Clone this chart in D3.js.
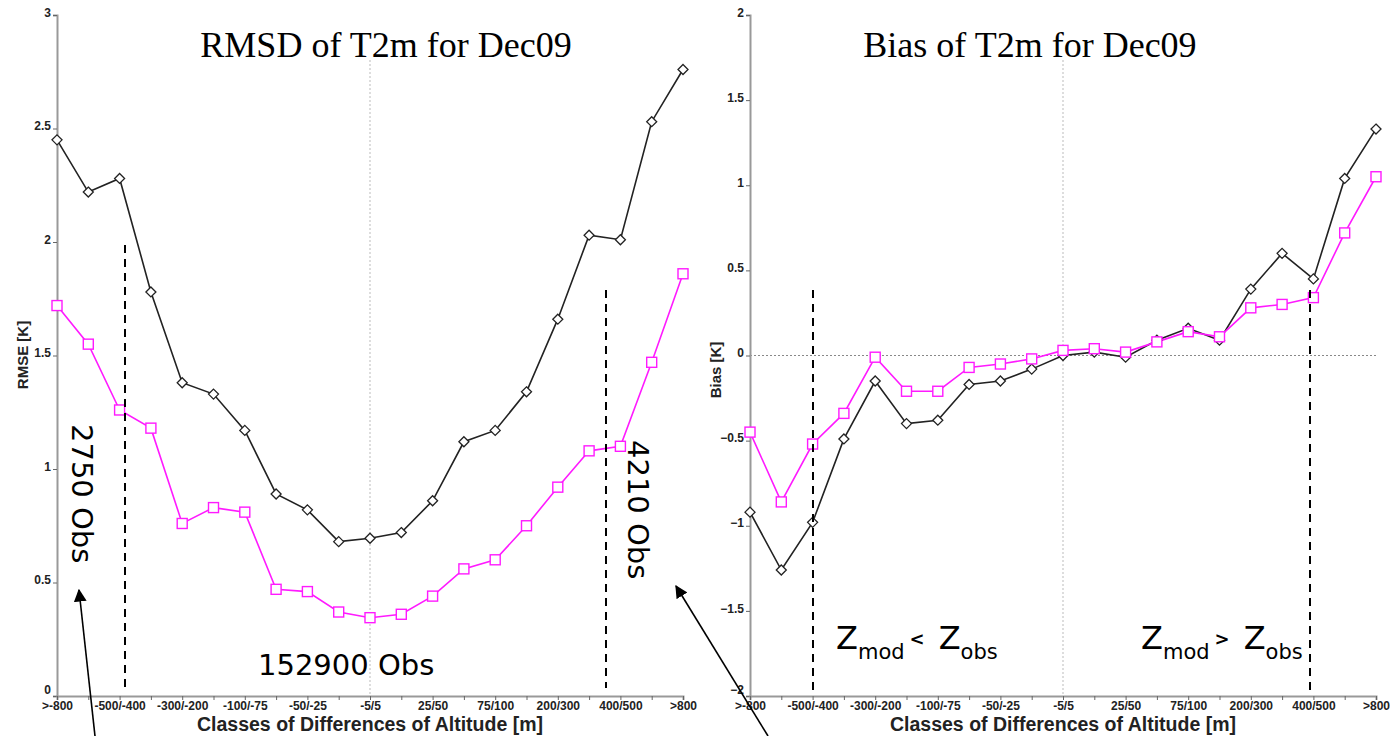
<!DOCTYPE html>
<html>
<head>
<meta charset="utf-8">
<script src="https://cdn.jsdelivr.net/npm/d3@7"></script>
<style>
  body { margin: 0; background: #fff; }
  svg { display: block; }
</style>
</head>
<body>
<svg id="area" width="1390" height="736"></svg>
<script>
// class labels, shown on every second tick
const classLabels = ['>-800', '-500/-400', '-300/-200', '-100/-75', '-50/-25', '-5/5',
  '25/50', '75/100', '200/300', '400/500', '>800'];

// RMSD, 21 classes
const rmsdBlack = [2.45, 2.22, 2.28, 1.78, 1.38, 1.33, 1.17, 0.89, 0.82, 0.68, 0.695,
  0.72, 0.86, 1.12, 1.17, 1.34, 1.66, 2.03, 2.01, 2.53, 2.76];
const rmsdMagenta = [1.72, 1.55, 1.26, 1.18, 0.76, 0.83, 0.81, 0.47, 0.46, 0.37, 0.345,
  0.36, 0.44, 0.56, 0.60, 0.75, 0.92, 1.08, 1.10, 1.47, 1.86];

// Bias, 21 classes
const biasBlack = [-0.92, -1.26, -0.98, -0.49, -0.15, -0.40, -0.38, -0.17, -0.15, -0.08, 0.00,
  0.02, -0.01, 0.09, 0.16, 0.09, 0.39, 0.60, 0.45, 1.04, 1.33];
const biasMagenta = [-0.45, -0.86, -0.52, -0.34, -0.01, -0.21, -0.21, -0.07, -0.05, -0.02, 0.03,
  0.04, 0.02, 0.08, 0.14, 0.11, 0.28, 0.30, 0.34, 0.72, 1.05];

const svg = d3.select('#area');
const sans = '"Liberation Sans", Arial, sans-serif';

function drawPanel(opt) {
  const x = d3.scaleLinear([0, 20], [opt.left, opt.left + 626]);
  const y = d3.scaleLinear(opt.domain, [696, 15]);
  const g = svg.append('g');

  // center dotted line
  g.append('line')
    .attr('x1', x(10)).attr('x2', x(10))
    .attr('y1', 60).attr('y2', y(opt.domain[0]))
    .attr('stroke', '#bbb').attr('stroke-dasharray', '2,2');

  if (opt.zeroLine) {
    g.append('line')
      .attr('x1', x(0)).attr('x2', x(20))
      .attr('y1', y(0)).attr('y2', y(0))
      .attr('stroke', '#888').attr('stroke-dasharray', '2,2');
  }

  // axes
  const yAxis = g.append('g')
    .attr('transform', `translate(${x(0)},0)`)
    .call(d3.axisLeft(y).tickValues(opt.ticks).tickSize(4).tickPadding(2)
      .tickFormat(d3.format('')));
  const xAxis = g.append('g')
    .attr('transform', `translate(0,${y(opt.domain[0])})`)
    .call(d3.axisBottom(x).tickValues(d3.range(21)).tickSize(4).tickPadding(1)
      .tickFormat((d) => (d % 2 === 0 ? classLabels[d / 2] : '')));
  [yAxis, xAxis].forEach((a) => {
    a.attr('font-size', 12).attr('font-family', sans).attr('font-weight', 'bold');
    a.select('.domain').attr('stroke', '#999').attr('stroke-width', 2);
    a.selectAll('.tick line').attr('stroke', '#666');
    a.selectAll('text').attr('fill', '#222');
  });
  yAxis.selectAll('text').attr('dy', (d) => (d === opt.domain[0] ? '-0.25em' : '0.1em'));
  xAxis.selectAll('text').attr('dy', '0.75em');

  g.append('text')
    .attr('x', x(10)).attr('y', 731)
    .attr('text-anchor', 'middle')
    .attr('font-family', sans).attr('font-weight', 'bold').attr('font-size', 19.5)
    .attr('fill', '#222')
    .text('Classes of Differences of Altitude [m]');

  g.append('text')
    .attr('transform', `translate(${opt.left - 29},${opt.ylabelY}) rotate(-90)`)
    .attr('text-anchor', 'middle')
    .attr('font-family', sans).attr('font-weight', 'bold').attr('font-size', 15)
    .attr('fill', '#222')
    .text(opt.ylabel);

  g.append('text')
    .attr('x', opt.titleX).attr('y', 57)
    .attr('text-anchor', 'middle')
    .attr('font-family', '"Liberation Serif", "Times New Roman", serif')
    .attr('font-size', 36)
    .text(opt.title);

  // series
  const line = d3.line().x((d, i) => x(i)).y((d) => y(d));
  g.append('path').datum(opt.black)
    .attr('d', line).attr('fill', 'none').attr('stroke', '#222').attr('stroke-width', 1.6);
  g.append('path').datum(opt.magenta)
    .attr('d', line).attr('fill', 'none').attr('stroke', '#ff1aff').attr('stroke-width', 1.6);

  g.append('g').selectAll('path')
    .data(opt.black)
    .join('path')
    .attr('d', 'M0,-5L5,0L0,5L-5,0Z')
    .attr('transform', (d, i) => `translate(${x(i)},${y(d)})`)
    .attr('fill', '#fff').attr('stroke', '#222').attr('stroke-width', 1.3);

  g.append('g').selectAll('rect')
    .data(opt.magenta)
    .join('rect')
    .attr('x', (d, i) => x(i) - 5)
    .attr('y', (d) => y(d) - 5)
    .attr('width', 10).attr('height', 10)
    .attr('fill', '#fff').attr('stroke', '#ff1aff').attr('stroke-width', 1.4);

  // dashed class separators
  opt.dashes.forEach((dl) => {
    g.append('line')
      .attr('x1', dl.x).attr('x2', dl.x).attr('y1', dl.y1).attr('y2', dl.y2)
      .attr('stroke', '#000').attr('stroke-width', 2).attr('stroke-dasharray', '8,6');
  });
  return { x, y };
}

drawPanel({
  left: 57, domain: [0, 3], ticks: [0, 0.5, 1, 1.5, 2, 2.5, 3],
  black: rmsdBlack, magenta: rmsdMagenta,
  title: 'RMSD of T2m for Dec09', titleX: 386,
  ylabel: 'RMSE [K]', ylabelY: 355,
  dashes: [{ x: 125, y1: 245, y2: 688 }, { x: 606, y1: 290, y2: 688 }],
});

drawPanel({
  left: 750, domain: [-2, 2], ticks: [-2, -1.5, -1, -0.5, 0, 0.5, 1, 1.5, 2],
  black: biasBlack, magenta: biasMagenta, zeroLine: true,
  title: 'Bias of T2m for Dec09', titleX: 1030,
  ylabel: 'Bias [K]', ylabelY: 370,
  dashes: [{ x: 813, y1: 290, y2: 696 }, { x: 1310, y1: 290, y2: 696 }],
});

// annotations
const annFont = '"DejaVu Sans", sans-serif';
svg.append('text')
  .attr('transform', 'translate(72,424) rotate(90)')
  .attr('font-family', annFont).attr('font-size', 29).text('2750 Obs');
svg.append('text')
  .attr('transform', 'translate(628,440) rotate(90)')
  .attr('font-family', annFont).attr('font-size', 29).text('4210 Obs');
svg.append('text')
  .attr('x', 258).attr('y', 675)
  .attr('font-family', annFont).attr('font-size', 29).text('152900 Obs');

function zLabel(xPos, sign) {
  const t = svg.append('text').attr('x', xPos).attr('y', 649)
    .attr('font-family', annFont).attr('font-size', 32);
  t.append('tspan').text('Z');
  t.append('tspan').attr('dy', 10).attr('font-size', 21).text('mod');
  t.append('tspan').attr('dx', 5).attr('dy', -14).attr('font-size', 18)
    .attr('font-weight', 'bold').text(sign);
  t.append('tspan').attr('dx', 14).attr('dy', 4).text('Z');
  t.append('tspan').attr('dy', 10).attr('font-size', 21).text('obs');
}
zLabel(836, '<');
zLabel(1141, '>');

// arrows
svg.append('defs').append('marker')
  .attr('id', 'arrow')
  .attr('viewBox', [0, 0, 10, 10])
  .attr('refX', 9).attr('refY', 5)
  .attr('markerWidth', 8).attr('markerHeight', 8)
  .attr('orient', 'auto')
  .append('path')
  .attr('d', 'M0,0L10,5L0,10Z')
  .attr('fill', '#000');

[[95, 736, 79, 590], [768, 736, 676, 586]].forEach((a) => {
  svg.append('line')
    .attr('x1', a[0]).attr('y1', a[1]).attr('x2', a[2]).attr('y2', a[3])
    .attr('stroke', '#000').attr('stroke-width', 1.6)
    .attr('marker-end', 'url(#arrow)');
});
</script>
</body>
</html>
